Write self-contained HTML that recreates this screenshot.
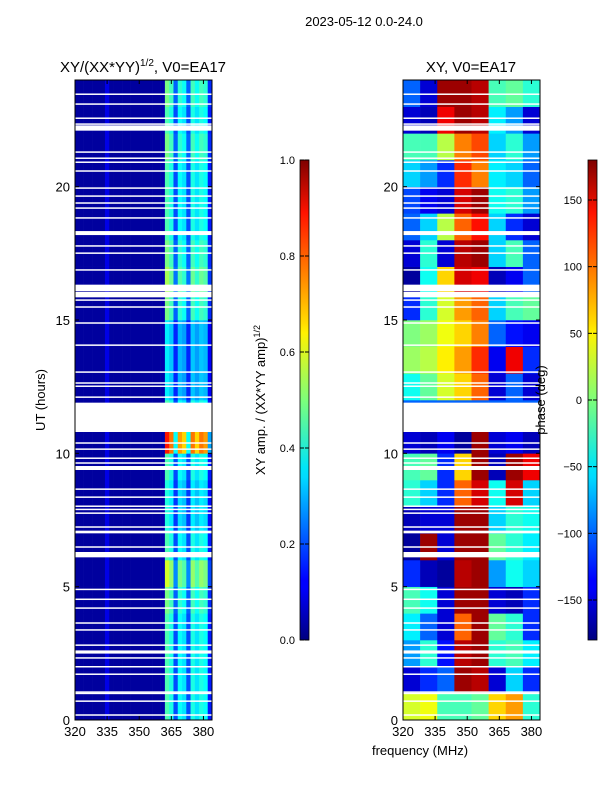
<!DOCTYPE html>
<html><head><meta charset="utf-8"><style>
body{margin:0;background:#fff;width:600px;height:800px;overflow:hidden;font-family:"Liberation Sans",sans-serif}
</style></head><body>
<svg id="fig" width="600" height="800" xmlns="http://www.w3.org/2000/svg" font-family="Liberation Sans, sans-serif">
<defs>
<linearGradient id="jet" x1="0" y1="1" x2="0" y2="0">
<stop offset="0" stop-color="#00007f"/><stop offset="0.11" stop-color="#0000ff"/><stop offset="0.125" stop-color="#0000ff"/>
<stop offset="0.34" stop-color="#00dbff"/><stop offset="0.36" stop-color="#00e5f7"/><stop offset="0.5" stop-color="#7dff7a"/>
<stop offset="0.64" stop-color="#fff200"/><stop offset="0.66" stop-color="#ffdc00"/><stop offset="0.89" stop-color="#ff1300"/><stop offset="1" stop-color="#7f0000"/>
</linearGradient>
</defs>
<text x="364" y="26" font-size="13" text-anchor="middle">2023-05-12 0.0-24.0</text>
<text x="143" y="72" font-size="15" text-anchor="middle">XY/(XX*YY)<tspan font-size="10" dy="-6">1/2</tspan><tspan dy="6">, V0=EA17</tspan></text>
<text x="471" y="72" font-size="15" text-anchor="middle">XY, V0=EA17</text>
<g id="ampPanel"></g>
<g id="phPanel"></g>
<g id="axes"></g>
<rect x="300" y="160" width="9" height="480" fill="url(#jet)" stroke="#000" stroke-width="0.8"/>
<rect x="588" y="160" width="9" height="480" fill="url(#jet)" stroke="#000" stroke-width="0.8"/>
<g id="cbticks"></g>
<text transform="translate(265,400) rotate(-90)" font-size="13" text-anchor="middle">XY amp. / (XX*YY amp)<tspan font-size="9" dy="-5">1/2</tspan></text>
<text transform="translate(545,400) rotate(-90)" font-size="13" text-anchor="middle">phase (deg)</text>
<text transform="translate(45,400) rotate(-90)" font-size="13" text-anchor="middle">UT (hours)</text>
<text x="420" y="755" font-size="13" text-anchor="middle">frequency (MHz)</text>
</svg>
<script>
const ampCols=[0.03,0.03,0.03,0.03,0.03,0.03,0.03,0.1,0.03,0.03,0.03,0.03,0.03,0.03,0.03,0.03,0.03,0.03,0.03,0.03,0.04,0.45,0.4,0.2,0.38,0.35,0.2,0.4,0.35,0.4,0.38,0.15];
const ampHourScale=[1,1,1,1,1.1,1.3,1,0.9,0.9,1,1.9,1,0.8,0.8,0.8,1.1,1.2,1.1,1,1,1,1.1,1,1.1];
const phaseGrid=[
[30,40,-20,-20,-10,60,80,-30],
[-150,-120,-100,170,160,-150,-60,-120],
[-80,-30,-130,160,170,-30,-20,-50],
[-50,-100,-150,100,170,-10,-30,-120],
[-20,-40,-150,170,170,-150,-160,-120],
[-120,-160,-170,160,170,-80,-40,-60],
[-170,170,-150,170,170,-10,-30,-50],
[-160,-150,-150,170,170,-60,-30,-40],
[-30,-60,-120,100,150,-40,150,-60],
[-20,-10,-120,60,170,-160,170,140],
[-150,-160,-140,-170,170,-150,-140,-160],
[-100,-100,-100,-100,-100,-100,-100,-100],
[-40,-10,30,60,100,-150,-100,-150],
[10,20,50,80,120,-140,140,-120],
[0,10,40,60,90,-100,-130,-140],
[-120,-30,30,80,100,-60,-20,-10],
[-170,-40,60,150,140,-160,-140,-100],
[-150,-30,-150,160,170,-60,-20,-100],
[-100,-60,20,100,130,-60,-120,-150],
[-110,-140,-150,150,170,-40,-30,-80],
[-60,-80,-120,120,90,-50,-60,-100],
[-20,-20,20,90,110,-60,-30,-80],
[-150,-160,140,170,160,-50,-80,-150],
[-100,-150,170,170,160,-20,-10,-30]];
const gapTimes=[23.47,23.1,22.57,22.35,22.2,21.3,21.07,20.92,20.59,19.95,19.65,19.39,19.2,18.83,18.26,17.78,17.51,16.88,16.2,15.95,15.75,15.49,14.89,14.06,13.05,12.64,12.52,12.11,10.39,10.16,9.82,9.64,9.45,8.66,8.36,8.02,7.9,7.76,7.24,7.05,6.49,6.2,4.9,4.53,4.2,3.64,3.38,2.81,2.55,2.33,2.0,1.72,1.05,1.0,0.71,0.19];
const gapWidths=[0.05,0.05,0.05,0.05,0.2,0.05,0.05,0.05,0.05,0.05,0.05,0.05,0.05,0.05,0.15,0.05,0.05,0.05,0.25,0.2,0.05,0.05,0.05,0.05,0.05,0.05,0.05,0.05,0.05,0.05,0.05,0.05,0.15,0.05,0.05,0.05,0.05,0.05,0.05,0.1,0.05,0.2,0.05,0.05,0.05,0.05,0.05,0.05,0.12,0.05,0.05,0.05,0.05,0.05,0.05,0.05];
const bigGap=[10.8,11.9];
const yTicks=[0,5,10,15,20];
const xTicks=[320,335,350,365,380];
const ampCbTicks=[0,0.2,0.4,0.6,0.8,1.0];
const phCbTicks=[-150,-100,-50,0,50,100,150];

const NS="http://www.w3.org/2000/svg";
const T0=80,T1=720,FMIN=320,FMAX=384;
const yS=t=>T1-(t/24)*(T1-T0);
function xS(p,f){return p+(f-FMIN)/(FMAX-FMIN)*137;}
function jet(v){v=Math.max(0,Math.min(1,v));
 const c=x=>Math.max(0,Math.min(1,x));
 const r=c(1.5-Math.abs(4*v-3)),g=c(1.5-Math.abs(4*v-2)),b=c(1.5-Math.abs(4*v-1));
 return `rgb(${Math.round(r*255)},${Math.round(g*255)},${Math.round(b*255)})`;}
function mk(tag,attrs,parent){const e=document.createElementNS(NS,tag);for(const k in attrs)e.setAttribute(k,attrs[k]);parent.appendChild(e);return e;}
const amp=document.getElementById('ampPanel'),ph=document.getElementById('phPanel'),ax=document.getElementById('axes'),cb=document.getElementById('cbticks');
ampHourScale.forEach((s,h)=>{ampCols.forEach((a,i)=>{
 const f0=FMIN+i*2,v=(f0>=362)?Math.min(0.95,a*s):a;
 const r=mk('rect',{x:xS(75,f0),y:yS(h+1),width:xS(75,f0+2)-xS(75,f0)+0.3,height:yS(h)-yS(h+1)+0.3,fill:jet(v)},amp);
 
 
});});
phaseGrid.forEach((row,h)=>{row.forEach((d,i)=>{
 const f0=FMIN+i*8;
 const r=mk('rect',{x:xS(403,f0),y:yS(h+1),width:xS(403,f0+8)-xS(403,f0)+0.3,height:yS(h)-yS(h+1)+0.3,fill:jet((d+180)/360)},ph);
 
 
});});
[75,403].forEach(p=>{
 gapTimes.forEach((t,i)=>{const w=gapWidths[i];
  const r=mk('rect',{x:p,y:yS(t+w/2),width:137,height:Math.max(1.5,yS(t-w/2)-yS(t+w/2)),fill:'#fff'},p==75?amp:ph);
  
  });
 const b=mk('rect',{x:p,y:yS(bigGap[1]),width:137,height:yS(bigGap[0])-yS(bigGap[1]),fill:'#fff'},p==75?amp:ph);
 
 
});
[75,403].forEach(p=>{
 const fr=mk('rect',{x:p,y:T0,width:137,height:T1-T0,fill:'none',stroke:'#000','stroke-width':1},ax);
 
 
 yTicks.forEach(t=>{const y=yS(t);
  mk('line',{x1:p,x2:p+4,y1:y,y2:y,stroke:'#000'},ax);mk('line',{x1:p+137,x2:p+133,y1:y,y2:y,stroke:'#000'},ax);
  const tx=mk('text',{x:p-5,y:y+5,'font-size':13,'text-anchor':'end'},ax);tx.textContent=t;
  
  });
 xTicks.forEach(f=>{const x=xS(p,f);
  mk('line',{x1:x,x2:x,y1:T1,y2:T1-4,stroke:'#000'},ax);mk('line',{x1:x,x2:x,y1:T0,y2:T0+4,stroke:'#000'},ax);
  const tx=mk('text',{x:x,y:T1+16,'font-size':13,'text-anchor':'middle'},ax);tx.textContent=f;
  
  });
});
ampCbTicks.forEach(v=>{const y=640-v*480;
 mk('line',{x1:300,x2:304,y1:y,y2:y,stroke:'#000'},cb);mk('line',{x1:309,x2:305,y1:y,y2:y,stroke:'#000'},cb);
 const tx=mk('text',{x:295,y:y+4,'font-size':11,'text-anchor':'end'},cb);tx.textContent=v.toFixed(1);
 
 });
phCbTicks.forEach(v=>{const y=640-(v+180)/360*480;
 mk('line',{x1:588,x2:592,y1:y,y2:y,stroke:'#000'},cb);mk('line',{x1:597,x2:593,y1:y,y2:y,stroke:'#000'},cb);
 const tx=mk('text',{x:582,y:y+4,'font-size':11,'text-anchor':'end'},cb);tx.textContent=v<0?'\u2212'+(-v):v;
 
 });
</script>
</body></html>
